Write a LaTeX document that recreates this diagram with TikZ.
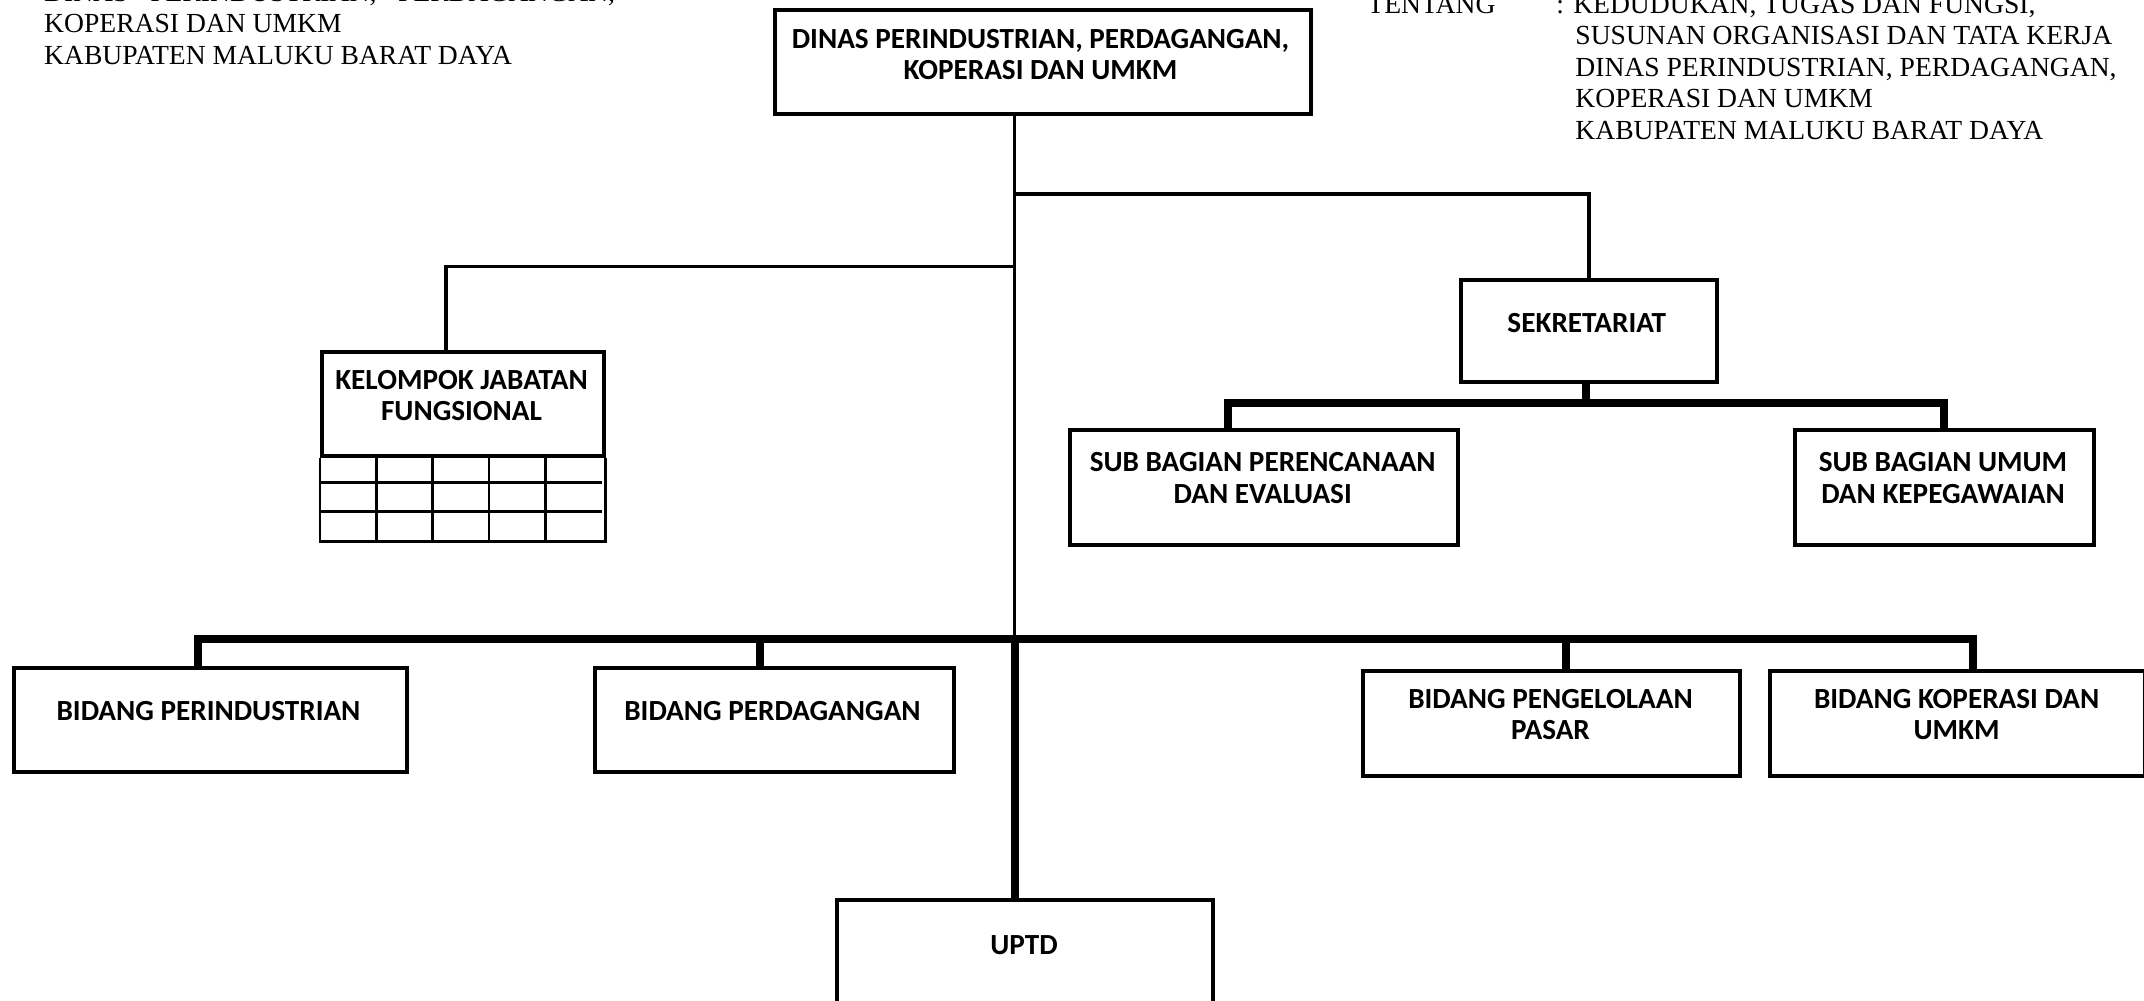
\documentclass[tikz,border=0pt]{standalone}
\usepackage{fontspec}
\newfontfamily\boxfont{Carlito}
\newfontfamily\hdrfont{Liberation Serif}
\begin{document}
\begin{tikzpicture}[x=0.5pt,y=-0.5pt,
  box/.style={draw, line width=2pt, rectangle, inner sep=0pt, anchor=north west},
  lbl/.style={font=\boxfont\bfseries\fontsize{14.6}{15.7}\selectfont, align=center, inner sep=0pt},
  hdr/.style={font=\hdrfont\fontsize{13.8}{15.7}\selectfont, anchor=base west, inner sep=0pt},
  conn/.style={line width=1.8pt},
  heavy/.style={line width=4pt, line join=miter},
  gridline/.style={line width=1.4pt}]
\useasboundingbox (0,0) rectangle (2144,1001);

% header texts
\node[hdr] (hl1) at (43.8,1.2) {\makebox[285.5pt][s]{DINAS\hfill PERINDUSTRIAN,\hfill PERDAGANGAN,}};
\node[hdr] (hl2) at (43.8,32.6) {KOPERASI DAN UMKM};
\node[hdr] (hl3) at (43.8,64) {KABUPATEN MALUKU BARAT DAYA};
\node[hdr] (hr0) at (1367,13.5) {TENTANG};
\node[hdr] (hr1) at (1556,13.5) {: KEDUDUKAN, TUGAS DAN FUNGSI,};
\node[hdr] (hr2) at (1575,45) {SUSUNAN ORGANISASI DAN TATA KERJA};
\node[hdr] (hr3) at (1575,76.4) {DINAS PERINDUSTRIAN, PERDAGANGAN,};
\node[hdr] (hr4) at (1575,107.8) {KOPERASI DAN UMKM};
\node[hdr] (hr5) at (1575,139.2) {KABUPATEN MALUKU BARAT DAYA};

% boxes
\node[box, minimum width=268pt, minimum height=52pt] (top) at (772.5,8.2) {};
\node[box, minimum width=127.9pt, minimum height=51.2pt] (sek) at (1458.9,277.6) {};
\node[box, minimum width=140.8pt, minimum height=52pt] (kel) at (320,350) {};
\node[box, minimum width=194.2pt, minimum height=57.4pt] (spe) at (1067.9,428) {};
\node[box, minimum width=149.8pt, minimum height=57.4pt] (sum) at (1792.5,428) {};
\node[box, minimum width=196.2pt, minimum height=52pt] (bpi) at (12.3,665.9) {};
\node[box, minimum width=179.1pt, minimum height=52pt] (bpd) at (593.4,665.9) {};
\node[box, minimum width=188.6pt, minimum height=52.6pt] (bpp) at (1360.5,668.6) {};
\node[box, minimum width=187.4pt, minimum height=52.6pt] (bkp) at (1767.9,668.6) {};
\node[box, minimum width=188pt, minimum height=60pt] (uptd) at (835.4,898.3) {};

% labels
\node[lbl] (ttop) at (1040.5,54.7) {DINAS PERINDUSTRIAN, PERDAGANGAN,\\KOPERASI DAN UMKM};
\node[lbl] (tsek) at (1586.8,322.7) {SEKRETARIAT};
\node[lbl] (tkel) at (461.5,395.8) {KELOMPOK JABATAN\\FUNGSIONAL};
\node[lbl] (tspe) at (1262.7,477.9) {SUB BAGIAN PERENCANAAN\\DAN EVALUASI};
\node[lbl] (tsum) at (1943,477.9) {SUB BAGIAN UMUM\\DAN KEPEGAWAIAN};
\node[lbl] (tbpi) at (208.5,711) {BIDANG PERINDUSTRIAN};
\node[lbl] (tbpd) at (772.5,711) {BIDANG PERDAGANGAN};
\node[lbl] (tbpp) at (1550.5,714.4) {BIDANG PENGELOLAAN\\PASAR};
\node[lbl] (tbkp) at (1956.6,714.4) {BIDANG KOPERASI DAN\\UMKM};
\node[lbl] (tuptd) at (1024,944.8) {UPTD};

% table under kelompok
\coordinate (tbl) at (320,541.5);
\draw[gridline] (kel.south west) -- (tbl) -- (tbl -| kel.south east) -- (kel.south east);
\foreach \yy in {482.7,511.4} \draw[gridline] (320,\yy) -- (601.6,\yy);
\foreach \xx in {376.3,432.6,489,545.3} \draw[gridline] (\xx,454) -- (\xx,541.5);

% junctions
\coordinate (j1) at (1014.5,194.2);
\coordinate (j2) at (1014.5,266.6);
\coordinate (j4) at (1014.5,638.5);
\coordinate (kd) at (445.7,266.6);
\coordinate (sd) at (1586,403.4);
\coordinate (s1) at (1227.8,403.4);
\coordinate (s2) at (1944.3,403.4);
\coordinate (d1) at (198.3,638.5);
\coordinate (d2) at (760.2,638.5);
\coordinate (d3) at (1565.6,638.5);
\coordinate (d4) at (1973,638.5);

% connectors
\draw[conn] (top.south -| j1) -- (j4);
\draw[heavy] (j4) -- (uptd.north -| j4);
\draw[conn] (j1) -| (sek.north);
\draw[conn] (j2) -- (kd) -- (kd |- kel.north);
\draw[heavy] (sek.south -| sd) -- (sd);
\draw[heavy] (s1 |- spe.north) -- (s1) -- (s2) -- (s2 |- sum.north);
\draw[heavy] (d1 |- bpi.north) -- (d1) -- (d4) -- (d4 |- bkp.north);
\draw[heavy] (d2) -- (d2 |- bpd.north);
\draw[heavy] (d3) -- (d3 |- bpp.north);
\end{tikzpicture}
\end{document}
